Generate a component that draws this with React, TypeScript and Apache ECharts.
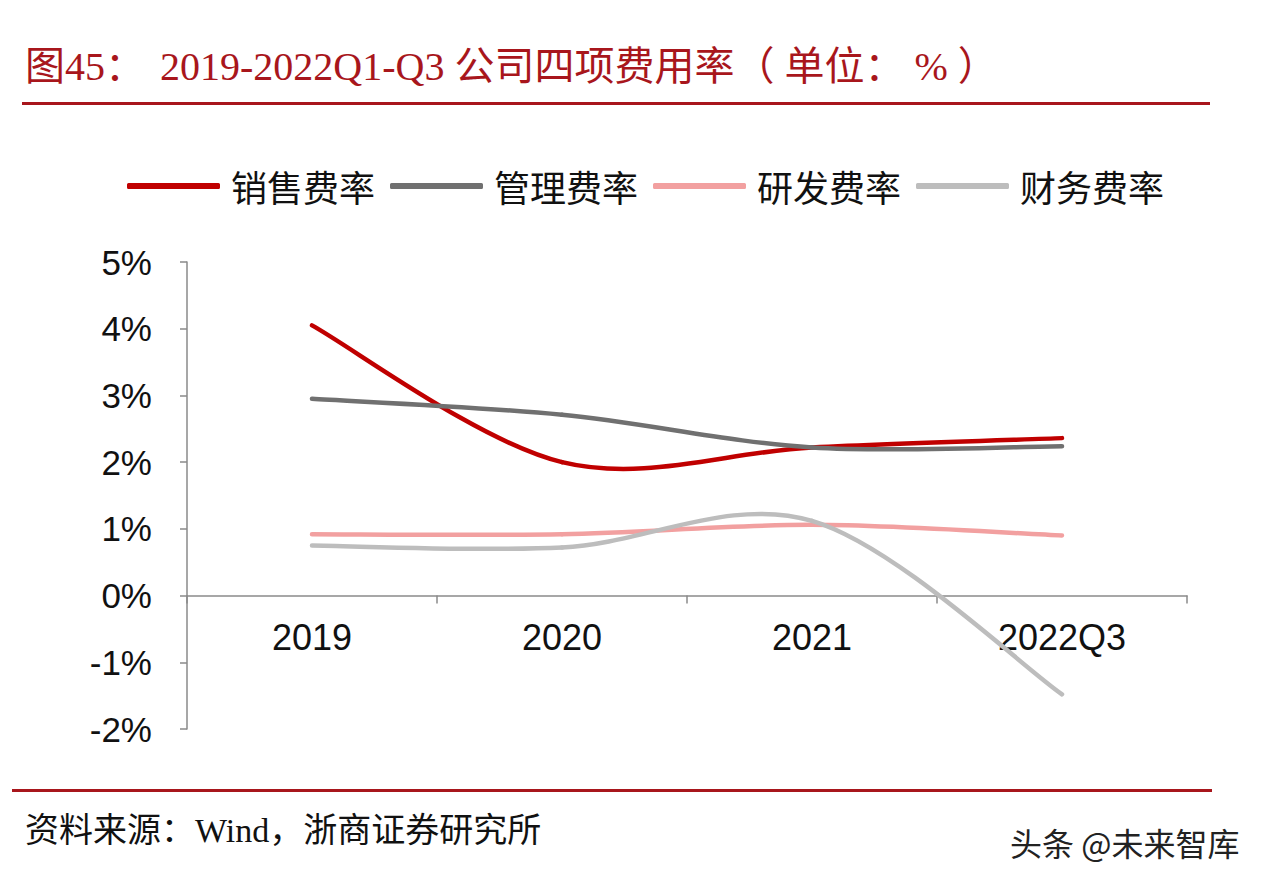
import React, { useEffect, useRef } from "react";
import * as echarts from "echarts";

const categories = ["2019", "2020", "2021", "2022Q3"];
const sellingRate = [4.05, 2.0, 2.22, 2.36];
const adminRate = [2.95, 2.71, 2.22, 2.24];
const rdRate = [0.92, 0.92, 1.06, 0.9];
const financeRate = [0.75, 0.72, 1.12, -1.48];
const seriesNames = ["销售费率", "管理费率", "研发费率", "财务费率"];
const seriesColors = ["#C00000", "#707070", "#F2A0A0", "#BDBDBD"];
const yTicks = { min: -2, max: 5, interval: 1 };

export default function App() {
  const ref = useRef<HTMLDivElement>(null);
  useEffect(() => {
    if (!ref.current) return;
    const chart = echarts.init(ref.current, undefined, { renderer: "svg" });
    const dataSets = [sellingRate, adminRate, rdRate, financeRate];
    const red = "#A8161C";
    const axisColor = "#8a8a8a";

    const makeRender = (vals: number[], color: string) => (params: any, api: any) => {
      const idx = params.dataIndex;
      const n = vals.length;
      if (idx >= n - 1) return { type: "group", children: [] };
      const pts = vals.map((v, j) => api.coord([j, v]));
      const p0 = pts[Math.max(idx - 1, 0)];
      const p1 = pts[idx];
      const p2 = pts[idx + 1];
      const p3 = pts[Math.min(idx + 2, n - 1)];
      const t = 1 / 6;
      return {
        type: "bezierCurve",
        shape: {
          x1: p1[0],
          y1: p1[1],
          x2: p2[0],
          y2: p2[1],
          cpx1: p1[0] + (p2[0] - p0[0]) * t,
          cpy1: p1[1] + (p2[1] - p0[1]) * t,
          cpx2: p2[0] - (p3[0] - p1[0]) * t,
          cpy2: p2[1] - (p3[1] - p1[1]) * t,
        },
        style: { stroke: color, lineWidth: 4.5, fill: null, lineCap: "round" },
      };
    };

    chart.setOption({
      animation: false,
      backgroundColor: "#ffffff",
      grid: { left: 187, right: 83, top: 262, bottom: 157 },
      legend: {
        left: 122,
        top: 163,
        itemWidth: 93,
        itemHeight: 6,
        itemGap: 15,
        icon: "roundRect",
        data: seriesNames,
        textStyle: {
          fontSize: 36,
          color: "#111",
          fontFamily: "'Noto Sans CJK SC', sans-serif",
          padding: [0, 0, 0, 6],
        },
      },
      xAxis: {
        type: "category",
        data: categories,
        boundaryGap: true,
        offset: -133.4,
        axisLine: { onZero: false, lineStyle: { color: axisColor, width: 1.5 } },
        axisTick: { show: true, length: 8, lineStyle: { color: axisColor, width: 1.5 } },
        axisLabel: {
          margin: 24,
          fontSize: 36,
          color: "#111",
          fontFamily: "'Liberation Sans', Arial, sans-serif",
        },
        splitLine: { show: false },
      },
      yAxis: {
        type: "value",
        min: yTicks.min,
        max: yTicks.max,
        interval: yTicks.interval,
        axisLine: { show: true, lineStyle: { color: axisColor, width: 1.5 } },
        axisTick: { show: true, length: 7, lineStyle: { color: axisColor, width: 1.5 } },
        axisLabel: {
          margin: 35,
          fontSize: 35,
          color: "#111",
          fontFamily: "'Liberation Sans', Arial, sans-serif",
          formatter: "{value}%",
        },
        splitLine: { show: false },
      },
      series: seriesNames.map((name, i) => ({
        name,
        type: "custom",
        data: dataSets[i].map((v, j) => [j, v]),
        encode: { x: 0, y: 1 },
        itemStyle: { color: seriesColors[i] },
        renderItem: makeRender(dataSets[i], seriesColors[i]),
        z: 2 + i,
      })),
      graphic: [
        {
          type: "text",
          left: 25,
          top: 46,
          style: {
            text: "图45：",
            fontSize: 40,
            fill: red,
            fontFamily: "'Liberation Serif', 'Noto Sans CJK SC', serif",
          },
        },
        {
          type: "text",
          left: 160,
          top: 46,
          style: {
            text: "2019-2022Q1-Q3 公司四项费用率（ 单位： % ）",
            fontSize: 40,
            fill: red,
            fontFamily: "'Liberation Serif', 'Noto Sans CJK SC', serif",
          },
        },
        {
          type: "rect",
          shape: { x: 22, y: 102, width: 1188, height: 3 },
          style: { fill: red },
        },
        {
          type: "rect",
          shape: { x: 12, y: 789, width: 1200, height: 3 },
          style: { fill: red },
        },
        {
          type: "text",
          left: 25,
          top: 813,
          style: {
            text: "资料来源：Wind，浙商证券研究所",
            fontSize: 34,
            fill: "#111",
            fontFamily: "'Liberation Serif', 'Noto Sans CJK SC', serif",
          },
        },
        {
          type: "text",
          left: 1010,
          top: 826,
          style: {
            text: "头条 @未来智库",
            fontSize: 32,
            fill: "#222",
            fontFamily: "'Noto Sans CJK SC', sans-serif",
          },
        },
      ],
    });
    return () => chart.dispose();
  }, []);
  return <div ref={ref} style={{ width: 1270, height: 886, position: "fixed", left: 0, top: 0 }} />;
}
